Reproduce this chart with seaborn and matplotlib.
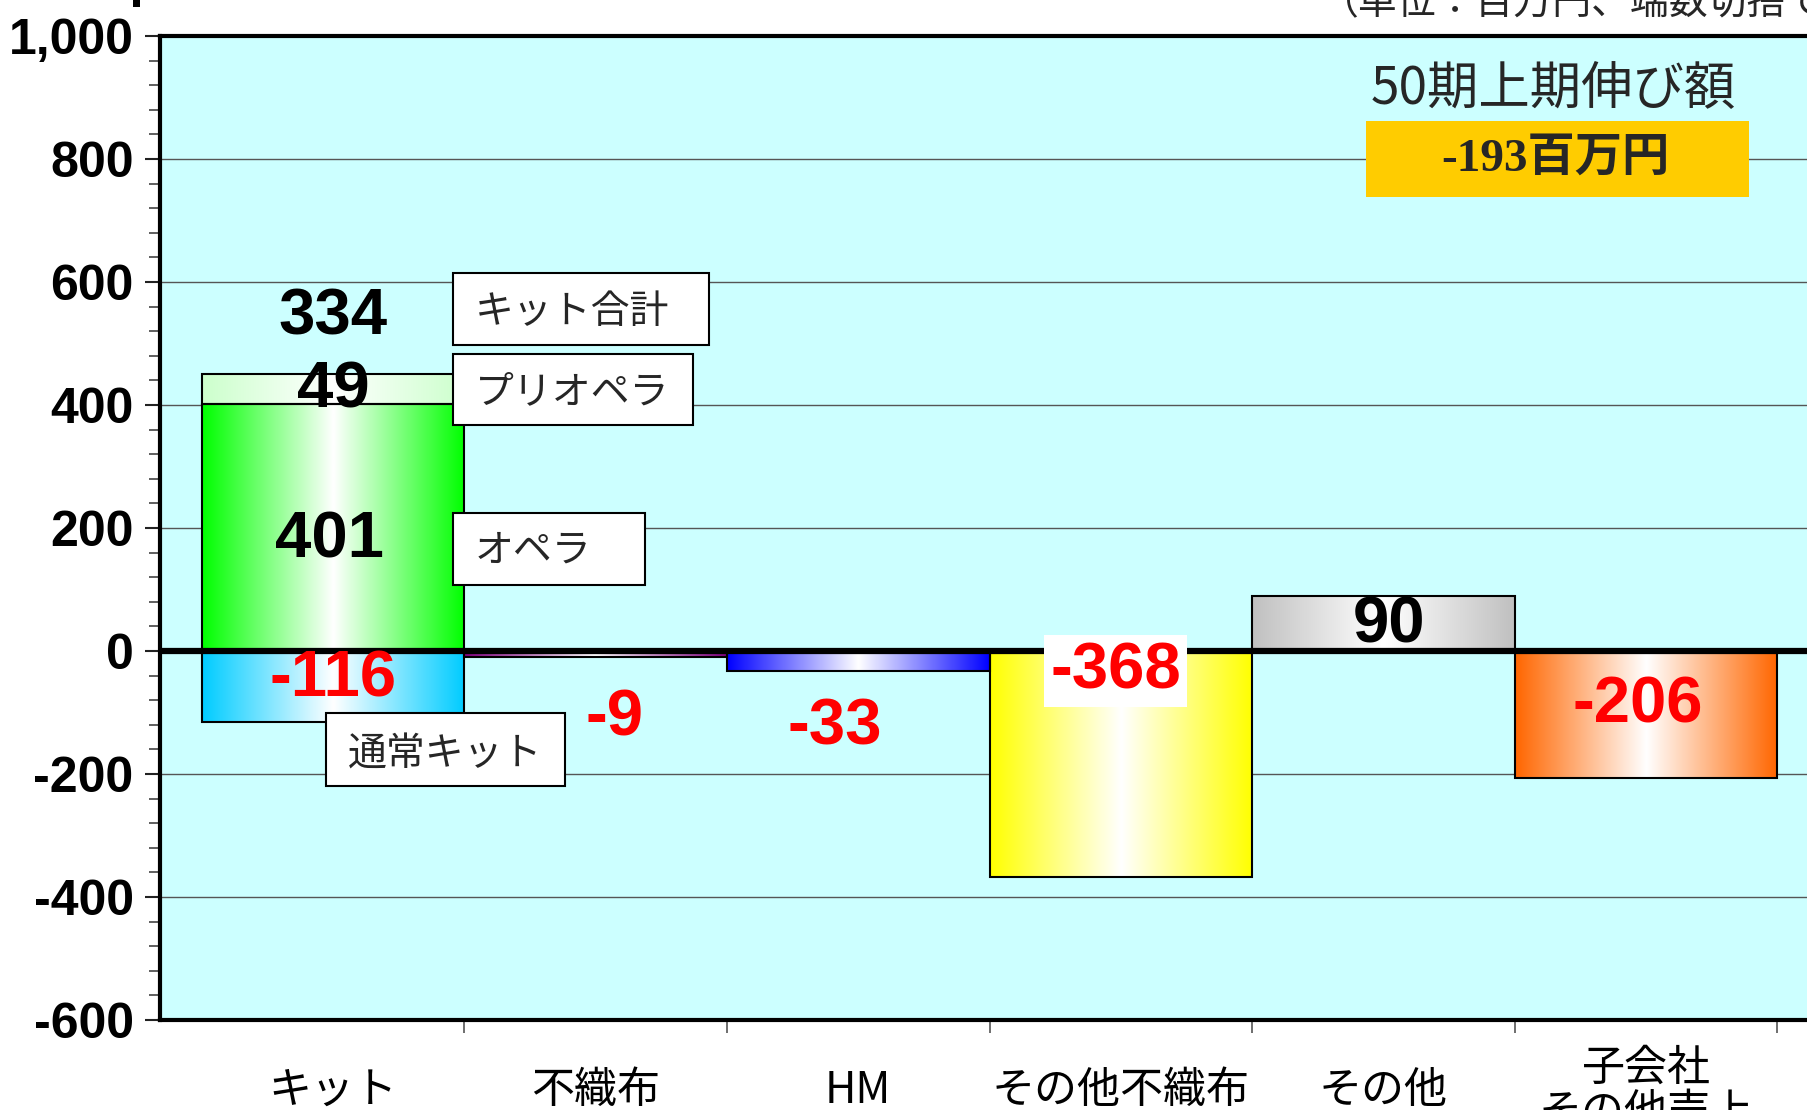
import numpy as np
import pandas as pd
import matplotlib
matplotlib.use("Agg")
import matplotlib.pyplot as plt
import matplotlib.colors as mcolors
from matplotlib.ticker import MultipleLocator, FixedLocator
from matplotlib import font_manager
from matplotlib.patches import Rectangle
import seaborn as sns

# ---------------- data ----------------
categories = ["キット", "不織布", "HM", "その他不織布", "その他", "子会社\nその他売上"]
main_values = [401, -9, -33, -368, 90, -206]          # オペラ, 不織布, HM, その他不織布, その他, 子会社
main_colors = ["#00FF00", "#800080", "#0000FF", "#FFFF00", "#C0C0C0", "#FF6600"]
prio_opera = 49          # stacked on top of オペラ
prio_color = "#CCFFCC"
normal_kit = -116        # 通常キット
normal_color = "#00CCFF"
kit_total = 334
total_change = -193
yticks = [-600, -400, -200, 0, 200, 400, 600, 800, 1000]

# ---------------- style ----------------
sns.set_theme(style="white")
plt.rcParams['font.family'] = ['Noto Sans CJK JP', 'DejaVu Sans']
names = {f.name for f in font_manager.fontManager.ttflist}
narrow = 'Liberation Sans Narrow' if 'Liberation Sans Narrow' in names else 'Liberation Sans'

W, H = 1807, 1110
fig = plt.figure(figsize=(W / 100, H / 100), dpi=100)
fig.patch.set_facecolor("white")
ax = fig.add_axes([160 / W, (H - 1020) / H, (W - 160) / W, (1020 - 36) / H])
ax.set_facecolor("#CCFFFF")

df = pd.DataFrame({"cat": categories, "value": main_values})
bar_kw = dict(width=1.0, edgecolor="black", linewidth=1.5, errorbar=None, saturation=1, ax=ax)
sns.barplot(data=df, x="cat", y="value", hue="cat", palette=main_colors,
            order=categories, hue_order=categories, legend=False, **bar_kw)
sns.barplot(x=[categories[0]], y=[prio_opera], order=categories, color=prio_color,
            bottom=main_values[0], **bar_kw)
sns.barplot(x=[categories[0]], y=[normal_kit], order=categories, color=normal_color, **bar_kw)

# gradient fill: colour at edges, white in centre
t = np.abs(np.linspace(-1, 1, 256))
for p in list(ax.patches):
    c = np.array(mcolors.to_rgb(p.get_facecolor()))
    rgb = 1 - (1 - c)[None, :] * t[:, None]
    x0, x1 = sorted([p.get_x(), p.get_x() + p.get_width()])
    y0, y1 = sorted([p.get_y(), p.get_y() + p.get_height()])
    im = ax.imshow(rgb[None, :, :], extent=[x0, x1, y0, y1], aspect='auto',
                   interpolation='bilinear', origin='lower', zorder=p.get_zorder() - 0.01)
    im.set_clip_path(p)
    p.set_facecolor('none')

ax.axhline(0, color='black', lw=4.5, zorder=3)

ax.set_xlim(-0.659, 5.613)
ax.set_ylim(-600, 1000)
ax.set_xlabel("")
ax.set_ylabel("")

for s in ['left', 'top', 'bottom']:
    ax.spines[s].set_visible(True)
    ax.spines[s].set_linewidth(3)
    ax.spines[s].set_color('black')
ax.spines['right'].set_visible(False)

ax.set_axisbelow(True)
ax.yaxis.grid(True, which='major', color='#555555', linewidth=1.0)
ax.xaxis.grid(False)

ax.yaxis.set_major_locator(FixedLocator(yticks))
ax.set_yticklabels([f"{v:,}" for v in yticks])
ax.yaxis.set_minor_locator(MultipleLocator(40))
ax.tick_params(axis='y', which='major', left=True, length=11, width=1.5, color='#222222',
               direction='out', pad=8, labelsize=36, labelcolor='black')
ax.tick_params(axis='y', which='minor', left=True, length=8, width=1.2, color='#444444', direction='out')
for lbl in ax.get_yticklabels():
    lbl.set_fontfamily('Liberation Sans')
    lbl.set_fontweight('bold')

ax.set_xticks(range(len(categories)))
ax.set_xticklabels(categories)
ax.set_xticks(np.arange(len(categories)) + 0.5, minor=True)
ax.tick_params(axis='x', which='major', bottom=True, length=0, pad=51, labelsize=31, labelcolor='black')
ax.tick_params(axis='x', which='minor', bottom=True, length=9, width=1.2, color='#555555', direction='out')
for lbl in ax.get_xticklabels():
    lbl.set_va('center')
    lbl.set_linespacing(1.0)

# ---------------- value labels ----------------
value_texts = [str(kit_total), str(prio_opera), str(main_values[0]), str(normal_kit)] + \
              [str(v) for v in main_values[1:]]
value_pos = [(0.0, 543), (0.0, 424), (-0.015, 180), (0.0, -47),
             (1.07, -109), (1.91, -125), (2.98, -33), (4.02, 41), (4.97, -88)]
for txt, (x, y) in zip(value_texts, value_pos):
    col = 'red' if txt.startswith('-') else 'black'
    kw = {}
    if txt == str(main_values[3]):
        kw['bbox'] = dict(facecolor='white', edgecolor='none', pad=4)
    ax.text(x, y, txt, ha='center', va='center', fontsize=47, fontweight='bold',
            family=narrow, color=col, zorder=6, **kw)

# ---------------- callout boxes ----------------
boxes = [("キット合計", 0.457, 1.432, 498, 615, 551),
         ("プリオペラ", 0.457, 1.371, 367, 483, 421),
         ("オペラ", 0.457, 1.188, 107, 224, 163),
         ("通常キット", -0.026, 0.884, -220, -101, -169)]
for txt, bx0, bx1, by0, by1, ty in boxes:
    ax.add_patch(Rectangle((bx0, by0), bx1 - bx0, by1 - by0, facecolor='white',
                           edgecolor='black', lw=1.5, zorder=5))
    ax.text(bx0 + 0.084, ty, txt, ha='left', va='center', fontsize=28, zorder=6)

# ---------------- header texts ----------------
fig.text(1553 / W, 1 - 88 / H, "50期上期伸び額", ha='center', va='center', fontsize=37, zorder=7)
fig.add_artist(Rectangle((1366 / W, 1 - 197 / H), 383 / W, 76 / H, transform=fig.transFigure,
                         facecolor='#FFCC00', edgecolor='none', zorder=6))
fig.text(1555 / W, 1 - 160 / H, f"{total_change}百万円", ha='center', va='center', fontsize=34,
         fontweight='bold', family=['Liberation Serif', 'Noto Sans CJK JP'], zorder=7)
fig.text(1320 / W, 1 - 14 / H, "（単位：百万円、端数切捨て）", ha='left', va='baseline', fontsize=28)
fig.add_artist(Rectangle((133 / W, 1 - 7 / H), 7 / W, 8 / H, transform=fig.transFigure,
                         facecolor='black', edgecolor='none'))

fig.savefig("out.png", dpi=100)
